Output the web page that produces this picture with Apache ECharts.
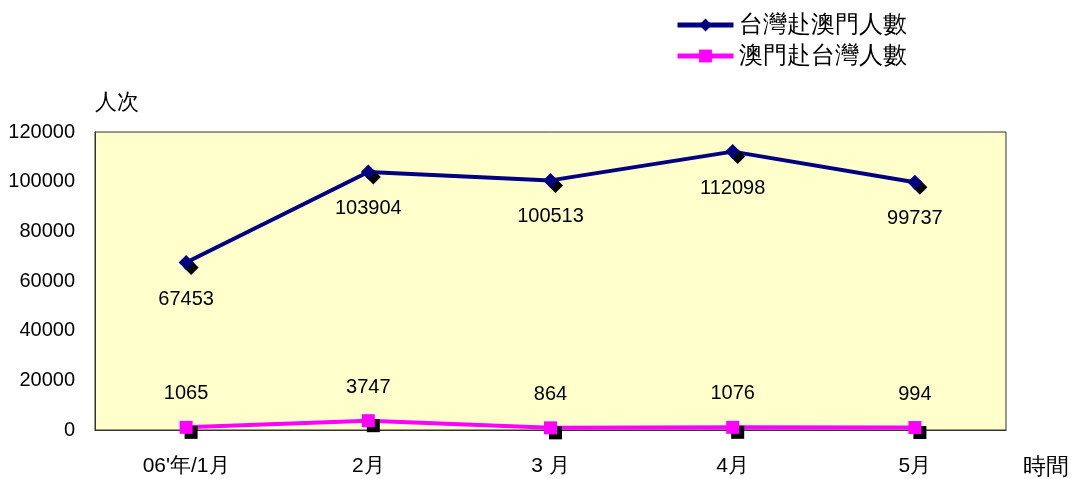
<!DOCTYPE html>
<html><head><meta charset="utf-8">
<script src="https://cdn.jsdelivr.net/npm/echarts@6/dist/echarts.min.js"></script>
<style>html,body{margin:0;padding:0;background:#fff}#c{width:1075px;height:479px}</style>
</head><body><div id="c"></div>
<script>
const categories = ["06'年/1月", "2月", "3 月", "4月", "5月"];
const taiwanToMacau = [67453, 103904, 100513, 112098, 99737];
const macauToTaiwan = [1065, 3747, 864, 1076, 994];
const seriesNames = ["台灣赴澳門人數", "澳門赴台灣人數"];
const yTicks = { min: 0, max: 120000, interval: 20000 };

const font = '"Liberation Sans", Arial, sans-serif';
const chart = echarts.init(document.getElementById('c'));
chart.setOption({
  animation: false,
  backgroundColor: '#fff',
  textStyle: { fontFamily: font },
  legend: {
    orient: 'vertical', left: 670, top: 8, itemGap: 7,
    itemWidth: 56, itemHeight: 16,
    lineStyle: { width: 5 },
    textStyle: { fontSize: 24, color: '#000', fontFamily: font },
    data: seriesNames
  },
  grid: { left: 95, right: 69, top: 132, bottom: 49, show: true,
    backgroundColor: '#FFFFCC', borderColor: '#333', borderWidth: 1 },
  xAxis: {
    type: 'category', data: categories, boundaryGap: true,
    name: '時間', nameLocation: 'end', nameGap: 17,
    nameTextStyle: { fontSize: 23, color: '#000', verticalAlign: 'top', padding: [26, 0, 0, 0] },
    axisLine: { lineStyle: { color: '#333' } },
    axisTick: { show: false },
    axisLabel: { fontSize: 21, color: '#000', margin: 26 }
  },
  yAxis: {
    type: 'value', min: yTicks.min, max: yTicks.max, interval: yTicks.interval,
    name: '人次', nameLocation: 'end', nameGap: 18,
    nameTextStyle: { fontSize: 22, color: '#000', align: 'left', padding: [0, 0, 0, 0] },
    axisLine: { show: true, lineStyle: { color: '#333' } },
    axisTick: { show: false },
    splitLine: { show: false },
    axisLabel: { fontSize: 20, color: '#000', margin: 20, formatter: v => String(v) }
  },
  series: [
    {
      name: seriesNames[0], type: 'line', data: taiwanToMacau,
      symbol: 'diamond', symbolSize: 15,
      lineStyle: { color: '#000080', width: 4 },
      itemStyle: { color: '#000080', shadowColor: '#000', shadowOffsetX: 5, shadowOffsetY: 5, shadowBlur: 0 },
      label: { show: true, position: 'bottom', distance: 19, fontSize: 20, color: '#000' }
    },
    {
      name: seriesNames[1], type: 'line', data: macauToTaiwan,
      symbol: 'rect', symbolSize: 13,
      lineStyle: { color: '#FF00FF', width: 4 },
      itemStyle: { color: '#FF00FF', shadowColor: '#000', shadowOffsetX: 5, shadowOffsetY: 5, shadowBlur: 0 },
      label: { show: true, position: 'top', distance: 17, fontSize: 20, color: '#000' }
    }
  ]
});
</script></body></html>
